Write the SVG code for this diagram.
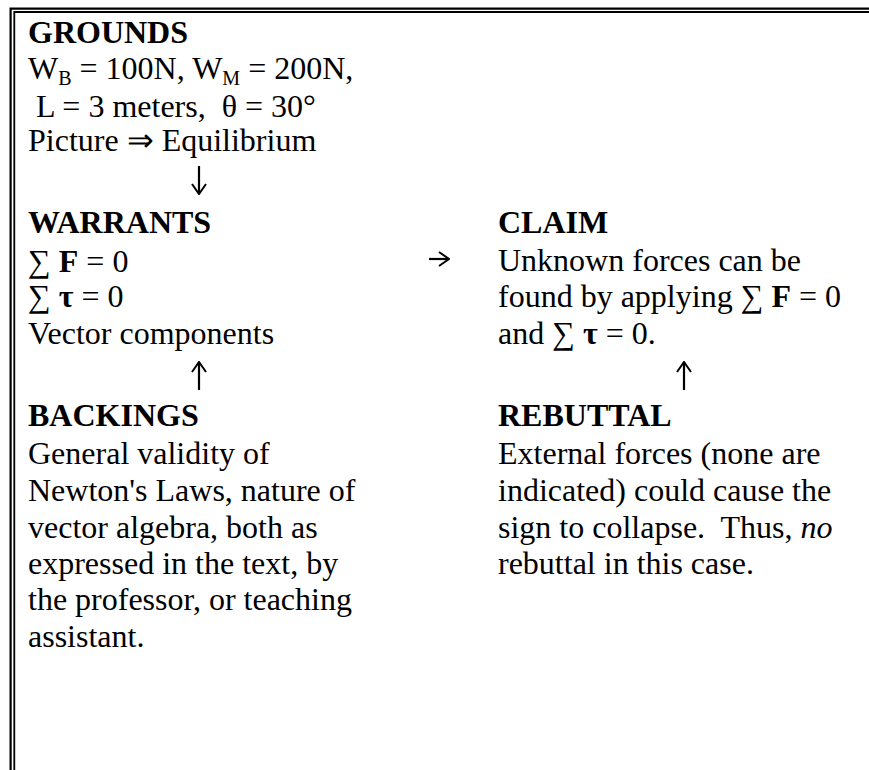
<svg xmlns="http://www.w3.org/2000/svg" width="869" height="770" viewBox="0 0 869 770">
<style>
text{font-family:"Liberation Serif","Times New Roman",serif;font-size:32px;fill:#000;white-space:pre}
.h{font-weight:bold}
.b{font-weight:bold}
.sub{font-size:20px}
.frame{stroke:#000;fill:none}
.con{stroke:#000;stroke-width:2.2;fill:none}
</style>
<defs>
<marker id="ah" viewBox="0 0 12 16" refX="11" refY="8" markerWidth="12" markerHeight="16" markerUnits="userSpaceOnUse" orient="auto">
<path d="M1,1 L11,8 L1,15" fill="none" stroke="#000" stroke-width="2"/>
</marker>
</defs>
<rect width="869" height="770" fill="#fff"/>
<g id="frame">
<path class="frame" stroke-width="2.2" d="M10.6,770 V8.6 H869"/>
<path class="frame" stroke-width="1.8" d="M14.3,770 V12 H869"/>
</g>
<g id="grounds">
<text x="28" y="43" class="h">GROUNDS</text>
<text x="28" y="79">W<tspan class="sub" dy="6">B</tspan><tspan dy="-6"> = 100N, W</tspan><tspan class="sub" dy="6">M</tspan><tspan dy="-6"> = 200N,</tspan></text>
<text x="28" y="117"> L = 3 meters,  θ = 30°</text>
<text x="28" y="151">Picture ⇒ Equilibrium</text>
</g>
<g id="warrants">
<text x="28" y="233" class="h">WARRANTS</text>
<text x="28" y="272">∑ <tspan class="b">F</tspan> = 0</text>
<text x="28" y="307">∑ <tspan class="b">τ</tspan> = 0</text>
<text x="28" y="344">Vector components</text>
</g>
<g id="claim">
<text x="498" y="233" class="h">CLAIM</text>
<text x="498" y="271">Unknown forces can be</text>
<text x="498" y="307">found by applying ∑ <tspan class="b">F</tspan> = 0</text>
<text x="498" y="344">and ∑ <tspan class="b">τ</tspan> = 0.</text>
</g>
<g id="backings">
<text x="28" y="426" class="h">BACKINGS</text>
<text x="28" y="464">General validity of</text>
<text x="28" y="501">Newton's Laws, nature of</text>
<text x="28" y="538">vector algebra, both as</text>
<text x="28" y="574">expressed in the text, by</text>
<text x="28" y="610">the professor, or teaching</text>
<text x="28" y="647">assistant.</text>
</g>
<g id="rebuttal">
<text x="498" y="426" class="h">REBUTTAL</text>
<text x="498" y="464">External forces (none are</text>
<text x="498" y="501">indicated) could cause the</text>
<text x="498" y="538">sign to collapse.  Thus, <tspan font-style="italic">no</tspan></text>
<text x="498" y="574">rebuttal in this case.</text>
</g>
<g id="connectors">
<line class="con" x1="199" y1="166" x2="199" y2="194" marker-end="url(#ah)"/>
<line class="con" x1="429" y1="259" x2="449" y2="259" marker-end="url(#ah)"/>
<line class="con" x1="199" y1="390" x2="199" y2="362" marker-end="url(#ah)"/>
<line class="con" x1="684" y1="390" x2="684" y2="362" marker-end="url(#ah)"/>
</g>
</svg>
